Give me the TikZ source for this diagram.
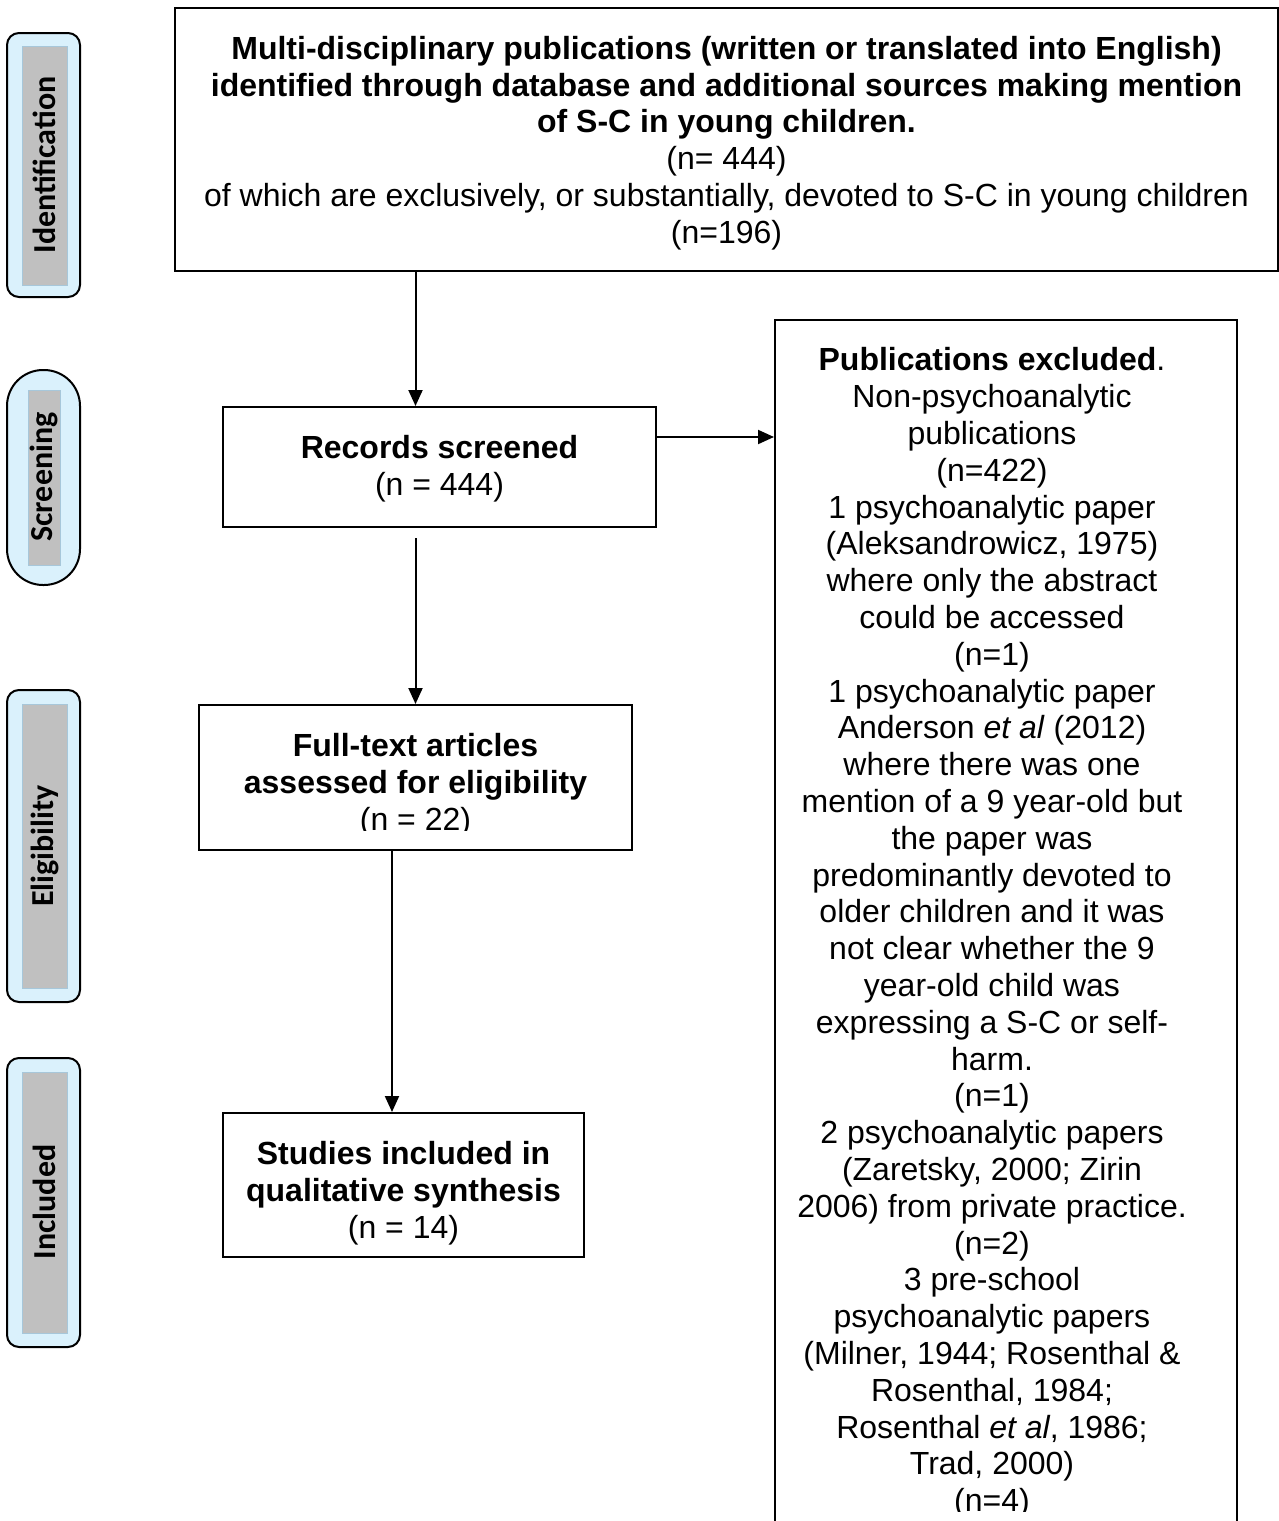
\documentclass[tikz,border=0pt]{standalone}
\usepackage{fontspec}
\setmainfont{Liberation Sans}
\newfontfamily\phasefont{Carlito}
\usetikzlibrary{arrows.meta}
\definecolor{phasefill}{HTML}{DAF1FC}
\definecolor{phasegray}{HTML}{C0C0C0}
\definecolor{phaseedge}{HTML}{A7C7DA}
\tikzset{
  flowbox/.style={draw, line width=2pt, rectangle, inner sep=0pt},
  plaintext/.style={inner sep=0pt, align=center, font=\fontsize{32}{36.8}\selectfont},
  flowarrow/.style={line width=2pt, -{Triangle[length=16pt,width=14pt]}},
  phaseouter/.style={draw, line width=2pt, fill=phasefill},
  phaseinner/.style={draw=phaseedge, line width=1pt, fill=phasegray},
  phaselabel/.style={rotate=90, inner sep=0pt,
    font=\phasefont\bfseries\fontsize{32}{36}\selectfont}
}
\begin{document}
\begin{tikzpicture}[x=1pt,y=-1pt]
\useasboundingbox (0,0) rectangle (1278,1521);
\fill[white] (0,0) rectangle (1278,1521);

% phase bands on the left
\draw[phaseouter, rounded corners=12] (7,33) rectangle (80,297);
\draw[phaseinner] (22,46) rectangle (67,285);
\node[phaselabel] (pident) at (44.5,165) {Identification};

\draw[phaseouter, rounded corners=36] (7,370) rectangle (80,585);
\draw[phaseinner] (28,390) rectangle (60,565);
\node[phaselabel] (pscreen) at (44,477) {Screening};

\draw[phaseouter, rounded corners=12] (7,690) rectangle (80,1002);
\draw[phaseinner] (22,704) rectangle (67,988);
\node[phaselabel] (pelig) at (44.5,846) {Eligibility};

\draw[phaseouter, rounded corners=12] (7,1058) rectangle (80,1347);
\draw[phaseinner] (22,1072) rectangle (67,1333);
\node[phaselabel] (pincl) at (44.5,1202) {Included};

% flow boxes
\node[flowbox, minimum width=1103, minimum height=263] (ident) at (726.5,139.5) {};
\node[plaintext] (identtext) at (726.5,143)
  {\textbf{Multi-disciplinary publications (written or translated into English)}\\
   \textbf{identified through database and additional sources making mention}\\
   \textbf{of S-C in young children.}\\
   (n= 444)\\
   of which are exclusively, or substantially, devoted to S-C in young children\\
   (n=196)};

\node[flowbox, minimum width=433, minimum height=120] (screen) at (439.5,467) {};
\node[plaintext] (screentext) at (439.5,469)
  {\textbf{Records screened}\\(n = 444)};

\node[flowbox, minimum width=433, minimum height=145] (fulltext) at (415.5,777.5) {};
\begin{scope}
  \clip (200,710) rectangle (631,830);
  \node[plaintext] (fulltexttext) at (415.5,785.5)
    {\textbf{Full-text articles}\\\textbf{assessed for eligibility}\\(n = 22)};
\end{scope}

\node[flowbox, minimum width=361, minimum height=144] (studies) at (403.5,1185) {};
\node[plaintext] (studiestext) at (403.5,1193)
  {\textbf{Studies included in}\\\textbf{qualitative synthesis}\\(n = 14)};

\node[flowbox, minimum width=462, minimum height=1220] (excl) at (1006,930) {};
\begin{scope}
  \clip (776,325) rectangle (1236,1511);
  \node[plaintext] (excltext) at (992,933)
    {\textbf{Publications excluded}.\\
     Non-psychoanalytic\\
     publications\\
     (n=422)\\
     1 psychoanalytic paper\\
     (Aleksandrowicz, 1975)\\
     where only the abstract\\
     could be accessed\\
     (n=1)\\
     1 psychoanalytic paper\\
     Anderson \textit{et al} (2012)\\
     where there was one\\
     mention of a 9 year-old but\\
     the paper was\\
     predominantly devoted to\\
     older children and it was\\
     not clear whether the 9\\
     year-old child was\\
     expressing a S-C or self-\\
     harm.\\
     (n=1)\\
     2 psychoanalytic papers\\
     (Zaretsky, 2000; Zirin\\
     2006) from private practice.\\
     (n=2)\\
     3 pre-school\\
     psychoanalytic papers\\
     (Milner, 1944; Rosenthal \&\\
     Rosenthal, 1984;\\
     Rosenthal \textit{et al}, 1986;\\
     Trad, 2000)\\
     (n=4)};
\end{scope}

% connectors
\coordinate (downx) at (392,0);
\coordinate (sidey) at (0,437);
\draw[flowarrow] (ident.south -| fulltext.north) -- (fulltext.north |- screen.north);
\draw[flowarrow] ([yshift=-10pt]screen.south -| fulltext.north) -- (fulltext.north);
\draw[flowarrow] (fulltext.south -| downx) -- (studies.north -| downx);
\draw[flowarrow] (screen.east |- sidey) -- (excl.west |- sidey);
\end{tikzpicture}
\end{document}
